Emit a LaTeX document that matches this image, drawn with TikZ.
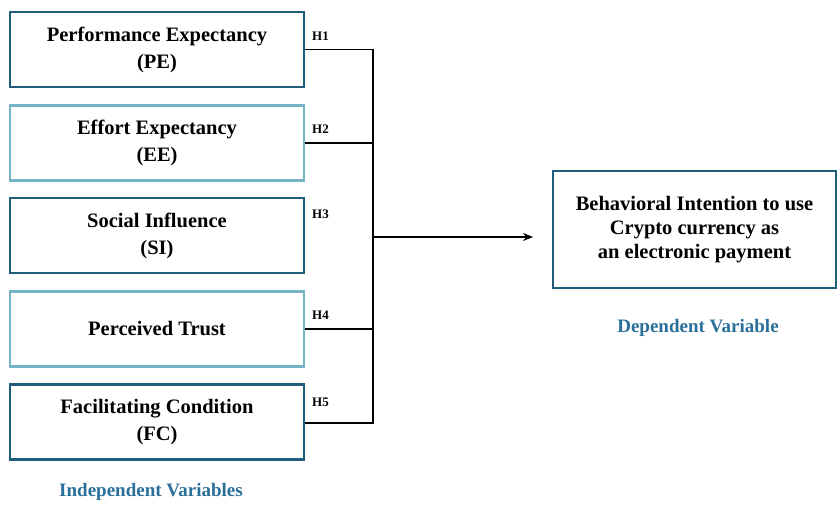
\documentclass[tikz,border=0pt]{standalone}
\usepackage{fontspec}
\setmainfont{Liberation Serif}
\usetikzlibrary{arrows.meta}
\definecolor{darkb}{HTML}{1F5D7C}
\definecolor{lightb}{HTML}{74B4C4}
\definecolor{labc}{HTML}{2A6F99}
\begin{document}
\begin{tikzpicture}[x=1pt,y=-1pt,
  box/.style={draw=#1,line width=2.8pt,minimum width=294pt,minimum height=75pt,align=center,font=\fontsize{20.5}{27}\selectfont\bfseries,inner sep=0pt},
  hlab/.style={font=\fontsize{13}{14}\selectfont\bfseries,anchor=west,inner sep=0pt},
  conn/.style={line width=1.7pt},
  captext/.style={font=\fontsize{19}{21}\selectfont\bfseries,text=labc}]
\useasboundingbox (0,0) rectangle (838,506);
\node[box=darkb] (pe) at (157,49.5) {Performance Expectancy\\(PE)};
\node[box=lightb] (ee) at (157,143) {Effort Expectancy\\(EE)};
\node[box=darkb] (si) at (157,235.5) {Social Influence\\(SI)};
\node[box=lightb] (pt) at (157,329) {Perceived Trust};
\node[box=darkb] (fc) at (157,422) {Facilitating Condition\\(FC)};
\node[box=darkb,minimum width=283pt,minimum height=117pt,font=\fontsize{20.5}{24}\selectfont\bfseries] (bi) at (694.5,229.5) {Behavioral Intention to use\\Crypto currency as\\an electronic payment};
\node[hlab] (h1) at (312,36) {H1};
\node[hlab] (h2) at (312,129) {H2};
\node[hlab] (h3) at (312,214) {H3};
\node[hlab] (h4) at (312,315) {H4};
\node[hlab] (h5) at (312,402) {H5};
\coordinate (j1) at (373,49.5);
\coordinate (j5) at (373,423);
\coordinate (jm) at (373,237);
\coordinate (ae) at (533,237);
\draw[conn] (pe.east) -- (j1) -- (j5) -- (fc.east |- j5);
\draw[conn] (ee.east) -- (ee.east -| j1);
\draw[conn] (pt.east) -- (pt.east -| j1);
\draw[conn,-{Stealth[length=10pt,width=8pt]}] (jm) -- (ae);
\node[captext] (iv) at (151,492) {Independent Variables};
\node[captext] (dv) at (698,328) {Dependent Variable};
\end{tikzpicture}
\end{document}
